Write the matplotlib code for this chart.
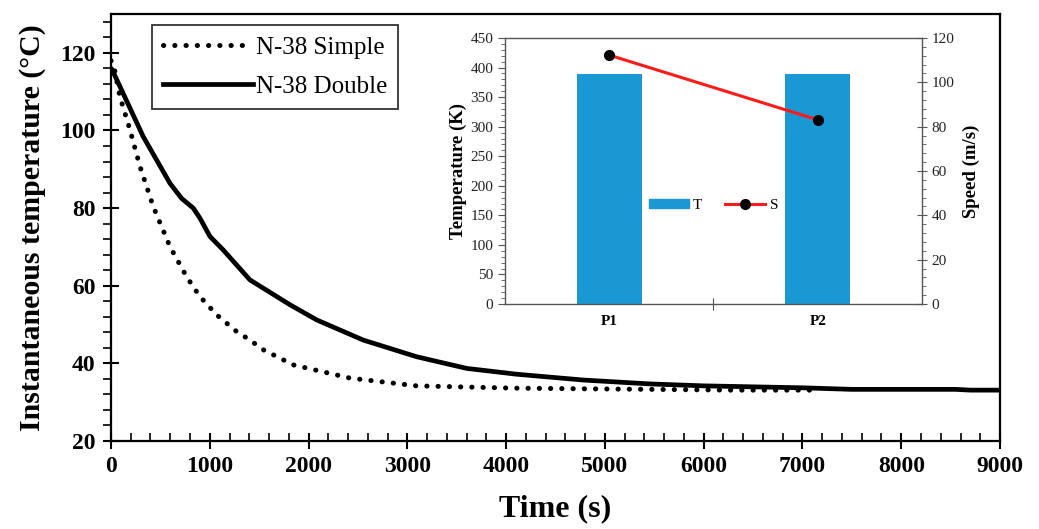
import matplotlib.pyplot as plt
from matplotlib.ticker import MultipleLocator
from matplotlib.patches import Rectangle
from matplotlib.lines import Line2D

plt.rcParams['font.family'] = ['Liberation Serif', 'DejaVu Serif']

# cooling curves
t_double = [0, 13, 327, 597, 715, 833, 901, 1002, 1137, 1407, 1812, 2082, 2554,
            3095, 3601, 4107, 4782, 5457, 6000, 7000, 7500, 8000, 8550, 8700, 9000]
T_double = [116.0, 115.6, 98.4, 86.4, 82.5, 80.0, 77.4, 72.7, 69.2, 61.5, 55.1, 51.2,
            46.0, 41.7, 38.7, 37.2, 35.7, 34.7, 34.2, 33.7, 33.3, 33.3, 33.3, 33.1, 33.1]

t_simple = [0, 23, 91, 192, 294, 428, 597, 766, 901, 1070, 1272, 1407, 1542, 1846,
            2420, 3095, 4107, 5457, 6300, 7150]
T_simple = [118.0, 117.3, 108.7, 100.2, 90.7, 80.4, 70.1, 62.3, 57.2, 52.5, 48.2, 46.0,
            43.5, 39.6, 36.2, 34.2, 33.6, 33.3, 33.1, 33.1]

# inset data
points = ['P1', 'P2']
temp_K = [389, 389]
speed = [112.3, 83.1]

fig = plt.figure(figsize=(10.39, 5.29), dpi=100)
ax = fig.add_axes([0.1068, 0.1664, 0.8557, 0.807])

ax.plot(t_simple, T_simple, color='black', lw=3.6, linestyle=(0, (0.05, 2.2)),
        dash_capstyle='round', label='N-38 Simple')
ax.plot(t_double, T_double, color='black', lw=3.4, label='N-38 Double')

ax.set_xlim(0, 9000)
ax.set_ylim(20, 130)
ax.set_yticks([20, 40, 60, 80, 100, 120])
ax.xaxis.set_major_locator(MultipleLocator(1000))
ax.xaxis.set_minor_locator(MultipleLocator(200))
ax.yaxis.set_minor_locator(MultipleLocator(4))
ax.tick_params(axis='both', which='major', direction='inout', length=12, width=1.5,
               labelsize=17, pad=5)
ax.tick_params(axis='x', which='minor', direction='in', length=6, width=1.2)
ax.tick_params(axis='y', which='minor', direction='out', length=6, width=1.2)
for lab in ax.get_xticklabels() + ax.get_yticklabels():
    lab.set_fontweight('bold')
for sp in ax.spines.values():
    sp.set_linewidth(1.6)

ax.set_xlabel('Time (s)', fontsize=23, fontweight='bold', labelpad=12)
ax.set_ylabel('Instantaneous temperature (°C)', fontsize=21.5, fontweight='bold', labelpad=10)

leg = ax.legend(loc='upper left', bbox_to_anchor=(0.046, 0.974), borderaxespad=0,
                fontsize=18, frameon=True, fancybox=False, edgecolor='black',
                handlelength=3.6, handletextpad=0.1, borderpad=0.45, labelspacing=0.65)
leg.get_frame().set_linewidth(1.3)

# inset
ax2 = fig.add_axes([0.486, 0.4253, 0.4014, 0.5028])
x = range(len(points))
ax2.bar(x, temp_K, width=0.31, color='#1a98d4', label='T')
ax2.set_xlim(-0.5, 1.5)
ax2.set_ylim(0, 450)
ax2.yaxis.set_major_locator(MultipleLocator(50))
ax2.yaxis.set_minor_locator(MultipleLocator(10))
ax2.set_xticks([0.5], minor=False)
ax2.set_xticklabels([''])
ax2.set_xticks([0, 1], minor=True)
ax2.set_xticklabels(points, minor=True, fontweight='bold', fontsize=11)
ax2.tick_params(axis='x', which='minor', length=0, pad=8)
ax2.tick_params(axis='x', which='major', direction='inout', length=8, color='#555555')
ax2.tick_params(axis='y', which='major', direction='out', length=5, labelsize=11,
                color='#555555', labelcolor='#222222')
ax2.tick_params(axis='y', which='minor', direction='out', length=3, color='#555555')
ax2.set_ylabel('Temperature (K)', fontsize=13.5, fontweight='bold', labelpad=2)
for sp in ax2.spines.values():
    sp.set_color('#555555')
    sp.set_linewidth(1.0)

ax3 = ax2.twinx()
ax3.plot(x, speed, color='#ff1a1a', lw=2.2, marker='o', markersize=7,
         markerfacecolor='black', markeredgecolor='black', label='S')
ax3.set_ylim(0, 120)
ax3.yaxis.set_major_locator(MultipleLocator(20))
ax3.yaxis.set_minor_locator(MultipleLocator(4))
ax3.tick_params(axis='y', which='major', direction='inout', length=7, labelsize=11,
                color='#555555', labelcolor='#222222')
ax3.tick_params(axis='y', which='minor', direction='out', length=3, color='#555555')
ax3.set_ylabel('Speed (m/s)', fontsize=13.5, fontweight='bold', labelpad=6)
for sp in ax3.spines.values():
    sp.set_visible(False)

handles = [Rectangle((0, 0), 1, 0.5, color='#1a98d4'),
           Line2D([], [], color='#ff1a1a', lw=2.2, marker='o', markersize=7,
                  markerfacecolor='black', markeredgecolor='black')]
ax2.legend(handles, ['T', 'S'], loc='center', bbox_to_anchor=(0.5, 0.37), ncol=2,
           frameon=False, fontsize=11, handlelength=2.6, handleheight=0.5,
           handletextpad=0.3, columnspacing=1.5)

fig.savefig('out.png', dpi=100)
